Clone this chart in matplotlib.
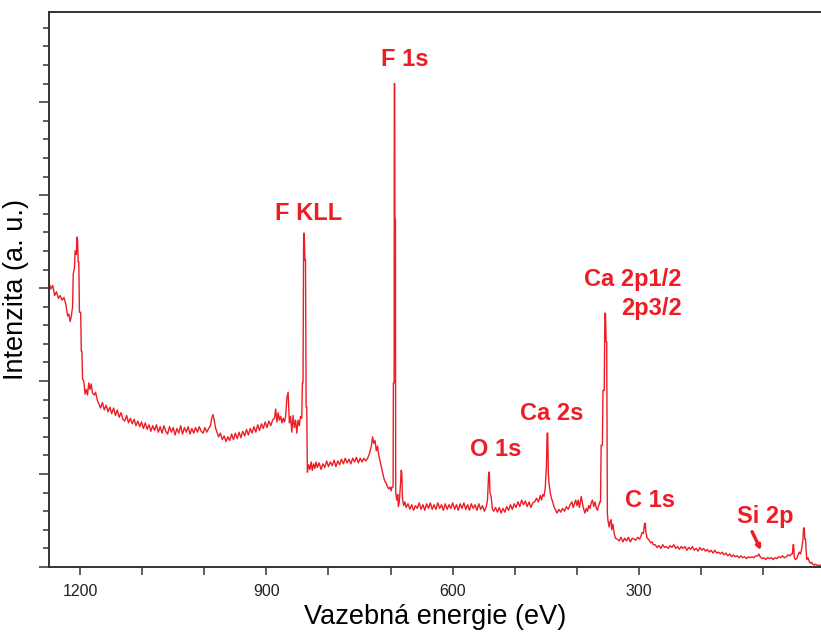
import matplotlib
matplotlib.use("Agg")
import matplotlib.pyplot as plt
import matplotlib.ticker as mticker

plt.rcParams["font.family"] = ["Liberation Sans", "DejaVu Sans"]

# ---- data: XPS survey, binding energy (eV) vs intensity (a. u.) ----
energy = [
    1250, 1247, 1244, 1241, 1238, 1235, 1232, 1229, 1226, 1223, 1220, 1218, 1216, 1214, 1212,
    1211, 1209, 1208, 1206, 1205, 1204, 1203, 1202, 1201, 1199, 1198, 1197, 1196, 1194, 1192,
    1190, 1188, 1186, 1184, 1182, 1180, 1177, 1175, 1172, 1170, 1167, 1164, 1161, 1158, 1155,
    1152, 1149, 1146, 1143, 1140, 1137, 1134, 1131, 1128, 1125, 1122, 1119, 1116, 1113, 1110,
    1107, 1104, 1101, 1098, 1095, 1092, 1089, 1086, 1083, 1080, 1077, 1074, 1071, 1068, 1065,
    1062, 1059, 1056, 1053, 1050, 1047, 1044, 1041, 1038, 1035, 1032, 1029, 1026, 1023, 1020,
    1017, 1014, 1011, 1008, 1005, 1002, 999, 996, 993, 990, 988, 986, 984, 982, 980,
    977, 974, 971, 968, 965, 962, 959, 956, 953, 950, 947, 944, 941, 938, 935,
    932, 929, 926, 923, 920, 917, 914, 911, 908, 905, 902, 899, 896, 893, 890,
    887, 885, 883, 881, 879, 877, 875, 873, 871, 869, 867, 865, 863, 861, 859,
    857, 855, 853, 851, 849, 847, 845, 843, 842, 841, 840, 839, 838, 837, 836,
    835, 834, 832, 830, 828, 826, 824, 822, 820, 818, 815, 812, 809, 806, 803,
    800, 797, 794, 791, 788, 785, 782, 779, 776, 773, 770, 767, 764, 761, 758,
    755, 752, 749, 746, 743, 740, 737, 734, 731, 729, 727, 725, 723, 721, 719,
    717, 715, 713, 711, 709, 707, 705, 703, 701, 699, 698, 696.0, 695.5, 694.3, 694.0,
    693.4, 693.0, 692.2, 691.8, 690, 688.5, 687.5, 686, 684, 683, 682, 681, 679, 677, 675,
    672, 669, 666, 663, 660, 657, 654, 651, 648, 645, 642, 639, 636, 633, 630,
    627, 624, 621, 618, 615, 612, 609, 606, 603, 600, 597, 594, 591, 588, 585,
    582, 579, 576, 573, 570, 567, 564, 561, 558, 555, 552, 549, 546, 544, 542,
    541, 540, 538, 536, 534, 531, 528, 525, 522, 519, 516, 513, 510, 507, 504,
    501, 498, 495, 492, 489, 486, 483, 480, 477, 474, 471, 468, 465, 462, 459,
    457, 455, 453, 451, 450, 449, 448, 447, 446, 445, 443, 441, 439, 437, 435,
    432, 429, 426, 423, 420, 417, 414, 411, 408, 406, 404, 402, 400, 398, 396,
    393, 391, 389, 387, 385, 383, 381, 379, 377, 375, 373, 371, 369, 367, 365,
    363, 362, 361, 359, 358, 356, 355, 354, 353, 352, 351, 350, 348, 347, 345,
    344, 342, 340, 338, 335, 332, 329, 326, 323, 320, 317, 314, 311, 308, 305,
    302, 299, 297, 295, 293, 291, 290, 289, 287, 285, 283, 281, 279, 277, 274,
    271, 268, 265, 262, 259, 256, 253, 250, 247, 244, 241, 238, 235, 232, 229,
    226, 223, 220, 217, 214, 211, 208, 205, 202, 199, 196, 193, 190, 187, 184,
    181, 178, 175, 172, 169, 166, 163, 160, 157, 154, 151, 148, 145, 142, 139,
    136, 133, 130, 127, 124, 121, 118, 115, 112, 109, 107, 105, 102, 99, 96,
    93, 90, 87, 84, 81, 78, 75, 72, 69, 66, 63, 60, 57, 55, 53,
    52, 51, 50, 48, 46, 44, 42, 40, 38, 36, 35, 34, 33, 32, 30,
    28, 26, 24, 22, 20, 18, 16, 14, 12, 10, 8,
]
intensity = [
    3.06, 2.99, 3.03, 2.92, 2.96, 2.89, 2.92, 2.87, 2.90, 2.83, 2.70, 2.72, 2.64, 2.70, 2.80,
    3.15, 3.22, 3.40, 3.36, 3.55, 3.52, 3.28, 3.28, 2.74, 2.74, 2.32, 2.32, 2.02, 2.00, 1.86,
    1.91, 1.85, 1.98, 1.91, 1.97, 1.87, 1.85, 1.88, 1.79, 1.76, 1.71, 1.77, 1.69, 1.74, 1.67,
    1.72, 1.65, 1.71, 1.63, 1.69, 1.61, 1.66, 1.59, 1.57, 1.63, 1.55, 1.60, 1.54, 1.59, 1.52,
    1.57, 1.51, 1.56, 1.49, 1.55, 1.48, 1.53, 1.46, 1.52, 1.47, 1.53, 1.45, 1.51, 1.44, 1.52,
    1.46, 1.43, 1.51, 1.45, 1.50, 1.42, 1.49, 1.44, 1.52, 1.43, 1.50, 1.45, 1.51, 1.43, 1.49,
    1.44, 1.50, 1.45, 1.51, 1.46, 1.44, 1.50, 1.45, 1.49, 1.52, 1.60, 1.64, 1.58, 1.50, 1.46,
    1.40, 1.44, 1.37, 1.41, 1.35, 1.40, 1.36, 1.43, 1.37, 1.44, 1.38, 1.45, 1.39, 1.46, 1.41,
    1.48, 1.42, 1.49, 1.44, 1.51, 1.45, 1.53, 1.47, 1.54, 1.49, 1.56, 1.50, 1.57, 1.52, 1.58,
    1.60, 1.70, 1.56, 1.66, 1.58, 1.62, 1.55, 1.60, 1.56, 1.62, 1.82, 1.88, 1.55, 1.62, 1.45,
    1.63, 1.50, 1.58, 1.44, 1.58, 1.52, 1.62, 1.60, 1.98, 1.98, 3.59, 3.59, 3.30, 3.30, 1.72,
    1.72, 1.02, 1.10, 1.05, 1.13, 1.04, 1.11, 1.06, 1.13, 1.07, 1.12, 1.05, 1.11, 1.07, 1.14,
    1.08, 1.13, 1.09, 1.15, 1.08, 1.14, 1.10, 1.16, 1.11, 1.17, 1.12, 1.16, 1.11, 1.17, 1.13,
    1.18, 1.12, 1.17, 1.13, 1.17, 1.14, 1.17, 1.22, 1.30, 1.40, 1.33, 1.36, 1.25, 1.30, 1.20,
    1.14, 1.08, 1.02, 0.96, 0.92, 0.90, 0.86, 0.84, 0.86, 0.82, 0.86, 0.86, 1.98, 1.98, 5.20,
    5.20, 3.74, 3.74, 0.80, 0.72, 0.78, 0.65, 0.70, 0.90, 1.04, 1.02, 0.75, 0.66, 0.70, 0.64,
    0.68, 0.62, 0.67, 0.61, 0.66, 0.63, 0.69, 0.62, 0.67, 0.61, 0.68, 0.63, 0.69, 0.62, 0.67,
    0.62, 0.69, 0.63, 0.67, 0.61, 0.68, 0.62, 0.67, 0.63, 0.69, 0.62, 0.67, 0.61, 0.68, 0.63,
    0.69, 0.62, 0.67, 0.61, 0.68, 0.63, 0.67, 0.61, 0.68, 0.62, 0.66, 0.60, 0.65, 0.72, 1.02,
    1.02, 0.80, 0.75, 0.62, 0.60, 0.64, 0.59, 0.64, 0.58, 0.63, 0.59, 0.65, 0.61, 0.67, 0.62,
    0.68, 0.64, 0.70, 0.65, 0.72, 0.67, 0.71, 0.65, 0.70, 0.64, 0.69, 0.70, 0.74, 0.70, 0.77,
    0.72, 0.78, 0.76, 0.85, 0.98, 1.10, 1.44, 1.44, 1.00, 0.90, 0.80, 0.74, 0.70, 0.65, 0.62,
    0.58, 0.62, 0.59, 0.63, 0.60, 0.65, 0.62, 0.67, 0.70, 0.64, 0.68, 0.72, 0.66, 0.72, 0.64,
    0.76, 0.68, 0.62, 0.58, 0.63, 0.60, 0.66, 0.63, 0.69, 0.72, 0.65, 0.70, 0.64, 0.61, 0.66,
    0.70, 0.70, 1.31, 1.31, 1.90, 1.90, 2.73, 2.73, 2.42, 2.42, 0.58, 0.50, 0.43, 0.48, 0.51,
    0.40, 0.46, 0.36, 0.31, 0.30, 0.28, 0.32, 0.27, 0.31, 0.28, 0.32, 0.27, 0.31, 0.30, 0.29,
    0.32, 0.30, 0.33, 0.37, 0.36, 0.47, 0.47, 0.38, 0.31, 0.30, 0.28, 0.26, 0.27, 0.24, 0.24,
    0.21, 0.23, 0.20, 0.24, 0.21, 0.22, 0.20, 0.23, 0.21, 0.24, 0.20, 0.22, 0.19, 0.22, 0.20,
    0.22, 0.18, 0.21, 0.19, 0.22, 0.18, 0.20, 0.17, 0.21, 0.18, 0.20, 0.17, 0.19, 0.16, 0.18,
    0.15, 0.18, 0.15, 0.16, 0.14, 0.16, 0.13, 0.15, 0.12, 0.14, 0.11, 0.13, 0.11, 0.12, 0.10,
    0.12, 0.10, 0.11, 0.09, 0.11, 0.10, 0.11, 0.10, 0.12, 0.12, 0.14, 0.11, 0.09, 0.10, 0.08,
    0.10, 0.09, 0.10, 0.08, 0.10, 0.09, 0.11, 0.10, 0.12, 0.10, 0.11, 0.13, 0.12, 0.14, 0.14,
    0.24, 0.24, 0.10, 0.08, 0.09, 0.13, 0.16, 0.14, 0.20, 0.30, 0.42, 0.42, 0.30, 0.30, 0.08,
    0.10, 0.06, 0.04, 0.05, 0.03, 0.02, 0.03, 0.02, 0.02, 0.01, 0.02,
]

# peak labels: (text, energy, intensity at baseline)
peak_labels = [
    ("F 1s", 677, 5.39),
    ("F KLL", 832, 3.73),
    ("O 1s", 531, 1.19),
    ("Ca 2s", 440, 1.58),
    ("C 1s", 282, 0.645),
    ("Si 2p", 97, 0.47),
]
ca2p_lines = ["Ca 2p1/2", "2p3/2"]
ca2p_energy = 231
ca2p_y = [3.02, 2.71]

RED = "#ee1d25"
AXC = "#333333"

fig = plt.figure(figsize=(8.21, 6.33), dpi=100)
ax = fig.add_axes([49 / 821, 66 / 633, 772 / 821, 555 / 633])

ax.plot(energy, intensity, color=RED, linewidth=1.0)

ax.set_xlim(1250, 7)
ax.set_ylim(0, 5.97)

ax.xaxis.set_major_locator(mticker.MultipleLocator(300))
ax.xaxis.set_minor_locator(mticker.MultipleLocator(100))
ax.yaxis.set_major_locator(mticker.MultipleLocator(1))
ax.yaxis.set_minor_locator(mticker.MultipleLocator(0.2))
ax.yaxis.set_major_formatter(mticker.NullFormatter())

ax.tick_params(axis="x", which="both", direction="out", length=6, width=1.1,
               color=AXC, labelsize=11.5, labelcolor="#222222", pad=6)
ax.tick_params(axis="y", which="major", direction="out", length=7, width=1.1, color=AXC)
ax.tick_params(axis="y", which="minor", direction="out", length=4, width=1.1, color=AXC)

for side in ["left", "bottom", "top"]:
    ax.spines[side].set_linewidth(1.4)
    ax.spines[side].set_color(AXC)
ax.spines["right"].set_visible(False)

ax.set_xlabel("Vazebná energie (eV)", fontsize=19.5, labelpad=4)
ax.set_ylabel("Intenzita (a. u.)", fontsize=19.5, labelpad=4)

for txt, e, y in peak_labels:
    ax.text(e, y, txt, color=RED, fontsize=17, fontweight="bold",
            ha="center", va="baseline")
for txt, y in zip(ca2p_lines, ca2p_y):
    ax.text(ca2p_energy, y, txt, color=RED, fontsize=17, fontweight="bold",
            ha="right", va="baseline")

# Si 2p arrow
ax.annotate("", xy=(103.5, 0.18), xytext=(118, 0.38),
            arrowprops=dict(arrowstyle="-|>", color=RED, lw=2.4,
                            mutation_scale=6, shrinkA=0, shrinkB=0))

fig.savefig("out.png", dpi=100)
